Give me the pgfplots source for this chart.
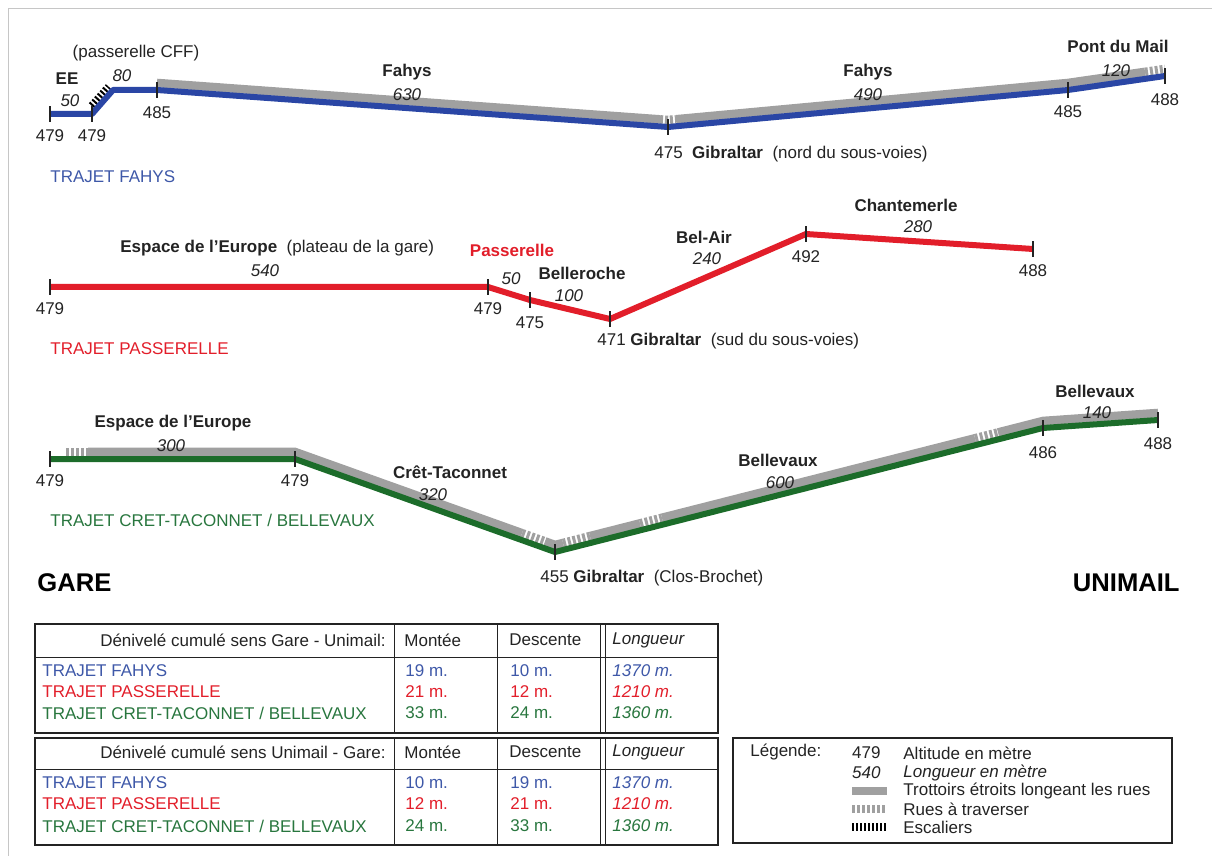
\documentclass[border=0pt]{standalone}
\usepackage{pgfplots}
\pgfplotsset{compat=1.18}
\usepackage{fontspec}
\setmainfont{Liberation Sans}

\definecolor{fahys}{RGB}{42,70,165}
\definecolor{fahystxt}{RGB}{62,88,168}
\definecolor{pass}{RGB}{226,30,42}
\definecolor{cret}{RGB}{28,108,42}
\definecolor{crettxt}{RGB}{40,118,62}
\definecolor{trott}{RGB}{160,160,160}
\definecolor{ink}{RGB}{35,35,35}

\newcommand{\fs}{\fontsize{8.5}{10}\selectfont}
\newcommand{\fsbig}{\fontsize{12.8}{15}\selectfont}

\tikzset{
  every node/.style={inner sep=0pt, font=\fs, text=ink},
  lab/.style={anchor=center},
  num/.style={anchor=center, font=\fs\itshape},
  name/.style={anchor=center, font=\fs\bfseries},
  left/.style={anchor=west},
}
\pgfplotsset{
  trott/.style={color=trott, line width=4.3pt, no marks},
  rue/.style={color=trott, line width=4.3pt, no marks, dash pattern=on 1.5pt off 1pt},
  esc/.style={black, line width=4.2pt, no marks, dash pattern=on 1pt off 1pt},
  route/.style={line width=3pt, no marks, line join=round},
  ticks/.style={only marks, mark=|, mark size=3.9pt, mark options={line width=0.65pt, ink}},
}

\begin{document}
\begin{tikzpicture}
\begin{axis}[
  at={(0,0)}, anchor=south west,
  scale only axis, width=606pt, height=428pt,
  xmin=0, xmax=1212, ymin=0, ymax=856, y dir=reverse,
  axis lines=none, clip=false,
]
% frame
\draw[gray!45, line width=0.5pt] (8,856) -- (8,9) -- (1212,9);

% ---------------- TRAJET FAHYS ----------------
\addplot[trott] coordinates {(157,83) (660,119.4)};
\addplot[rue] coordinates {(660,119.4) (668,120) (676,119.3)};
\addplot[trott] coordinates {(676,119.3) (1068,83) (1145,71.9)};
\addplot[rue] coordinates {(1145,71.9) (1165,69)};
\addplot[esc] coordinates {(92,106) (109,87)};
\addplot[route, fahys] coordinates {(50,114) (92,114) (113,90) (157,90) (668,127) (1068,90) (1165,76)};
\addplot[ticks] coordinates {(50,114) (92,114) (157,90) (668,127) (1068,90) (1165,76)};

\node[lab] at (50,136) {479};
\node[lab] at (92,136) {479};
\node[lab] at (157,113) {485};
\node[lab] at (1068,112) {485};
\node[lab] at (1165,100) {488};
\node[num] at (70,101) {50};
\node[num] at (122,76) {80};
\node[num] at (407,95) {630};
\node[num] at (868,95) {490};
\node[num] at (1116,71) {120};
\node[name] at (67,79) {EE};
\node[lab] at (136,53) {(passerelle CFF)};
\node[name] at (407,72) {Fahys};
\node[name] at (868,72) {Fahys};
\node[name] at (1118,46) {Pont du Mail};
\node[left] at (654,154) {475\ \ \textbf{Gibraltar}\ \ (nord du sous-voies)};
\node[left, text=fahystxt] at (50,177) {TRAJET FAHYS};

% ---------------- TRAJET PASSERELLE ----------------
\addplot[route, pass] coordinates {(50,287) (488,287) (530,300) (610,319) (806,234) (1033,249)};
\addplot[ticks] coordinates {(50,287) (488,287) (530,300) (610,319) (806,234) (1033,249)};

\node[lab] at (50,309) {479};
\node[lab] at (488,309) {479};
\node[lab] at (530,323) {475};
\node[lab] at (806,257) {492};
\node[lab] at (1033,271) {488};
\node[num] at (265,271) {540};
\node[num] at (511,279) {50};
\node[num] at (569,296) {100};
\node[num] at (707,259) {240};
\node[num] at (918,227) {280};
\node[left] at (120,248) {\textbf{Espace de l’Europe}\ \ (plateau de la gare)};
\node[name, text=pass] at (512,250) {Passerelle};
\node[name] at (582,273) {Belleroche};
\node[name] at (704,237) {Bel-Air};
\node[name] at (906,205) {Chantemerle};
\node[left] at (597,341) {471\ \textbf{Gibraltar}\ \ (sud du sous-voies)};
\node[left, text=pass] at (50,349) {TRAJET PASSERELLE};

% ---------------- TRAJET CRET-TACONNET / BELLEVAUX ----------------
\addplot[rue] coordinates {(66,452) (88,452)};
\addplot[trott] coordinates {(88,452) (295,452) (522,533.2)};
\addplot[rue] coordinates {(522,533.2) (545,541.4)};
\addplot[trott] coordinates {(545,541.4) (555,545) (563,543)};
\addplot[rue] coordinates {(563,543) (590,536.1)};
\addplot[trott] coordinates {(590,536.1) (640,523.4)};
\addplot[rue] coordinates {(640,523.4) (662,517.8)};
\addplot[trott] coordinates {(662,517.8) (975,438.3)};
\addplot[rue] coordinates {(975,438.3) (998,432.5)};
\addplot[trott] coordinates {(998,432.5) (1043,421) (1158,413)};
\addplot[route, cret] coordinates {(50,459) (295,459) (555,552) (1043,428) (1158,420)};
\addplot[ticks] coordinates {(50,459) (295,459) (555,552) (1043,428) (1158,420)};

\node[lab] at (50,481) {479};
\node[lab] at (295,481) {479};
\node[lab] at (1043,453) {486};
\node[lab] at (1158,444) {488};
\node[num] at (171,446) {300};
\node[num] at (433,495) {320};
\node[num] at (780,483) {600};
\node[num] at (1097,413) {140};
\node[name] at (173,423) {Espace de l’Europe};
\node[name] at (450,472) {Crêt-Taconnet};
\node[name] at (778,460) {Bellevaux};
\node[name] at (1095,391) {Bellevaux};
\node[left] at (540,578) {455\ \textbf{Gibraltar}\ \ (Clos-Brochet)};
\node[left, text=crettxt] at (50,520) {TRAJET CRET-TACONNET / BELLEVAUX};

\node[anchor=west, font=\fsbig\bfseries, text=black] at (37,583) {GARE};
\node[anchor=east, font=\fsbig\bfseries, text=black] at (1180,583) {UNIMAIL};

% ---------------- TABLE 1 ----------------
\draw[ink, line width=0.5pt] (35,657) -- (718,657);
\draw[ink, line width=0.5pt] (394,624) -- (394,733);
\draw[ink, line width=0.5pt] (497,624) -- (497,733);
\draw[ink, line width=0.5pt] (600,624) -- (600,733);
\draw[ink, line width=0.5pt] (605,624) -- (605,733);
\draw[ink, line width=0.8pt] (35,624) rectangle (718,733);
\node[anchor=east] at (386,640) {Dénivelé cumulé sens Gare - Unimail:};
\node[left] at (404,640) {Montée};
\node[left] at (509,640) {Descente};
\node[left, font=\fs\itshape] at (612,640) {Longueur};
\node[left, text=fahystxt] at (42,671) {TRAJET FAHYS};
\node[left, text=pass] at (42,692) {TRAJET PASSERELLE};
\node[left, text=crettxt] at (42,713) {TRAJET CRET-TACONNET / BELLEVAUX};
\node[left, text=fahystxt] at (405,671) {19 m.};
\node[left, text=pass] at (405,692) {21 m.};
\node[left, text=crettxt] at (405,713) {33 m.};
\node[left, text=fahystxt] at (510,671) {10 m.};
\node[left, text=pass] at (510,692) {12 m.};
\node[left, text=crettxt] at (510,713) {24 m.};
\node[left, text=fahystxt, font=\fs\itshape] at (612,671) {1370 m.};
\node[left, text=pass, font=\fs\itshape] at (612,692) {1210 m.};
\node[left, text=crettxt, font=\fs\itshape] at (612,713) {1360 m.};

% ---------------- TABLE 2 ----------------
\draw[ink, line width=0.5pt] (35,769) -- (718,769);
\draw[ink, line width=0.5pt] (394,738) -- (394,845);
\draw[ink, line width=0.5pt] (497,738) -- (497,845);
\draw[ink, line width=0.5pt] (600,738) -- (600,845);
\draw[ink, line width=0.5pt] (605,738) -- (605,845);
\draw[ink, line width=0.8pt] (35,738) rectangle (718,845);
\node[anchor=east] at (386,752) {Dénivelé cumulé sens Unimail - Gare:};
\node[left] at (404,752) {Montée};
\node[left] at (509,752) {Descente};
\node[left, font=\fs\itshape] at (612,752) {Longueur};
\node[left, text=fahystxt] at (42,783) {TRAJET FAHYS};
\node[left, text=pass] at (42,804) {TRAJET PASSERELLE};
\node[left, text=crettxt] at (42,826) {TRAJET CRET-TACONNET / BELLEVAUX};
\node[left, text=fahystxt] at (405,783) {10 m.};
\node[left, text=pass] at (405,804) {12 m.};
\node[left, text=crettxt] at (405,826) {24 m.};
\node[left, text=fahystxt] at (510,783) {19 m.};
\node[left, text=pass] at (510,804) {21 m.};
\node[left, text=crettxt] at (510,826) {33 m.};
\node[left, text=fahystxt, font=\fs\itshape] at (612,783) {1370 m.};
\node[left, text=pass, font=\fs\itshape] at (612,804) {1210 m.};
\node[left, text=crettxt, font=\fs\itshape] at (612,826) {1360 m.};

% ---------------- LEGEND ----------------
\draw[ink, line width=0.8pt] (733,738) rectangle (1172,843);
\node[left] at (750,752) {Légende:};
\node[anchor=east] at (881,753) {479};
\node[anchor=east, font=\fs\itshape] at (881,773) {540};
\addplot[trott] coordinates {(852,791) (887,791)};
\addplot[rue] coordinates {(852,809) (887,809)};
\addplot[esc] coordinates {(852,827) (887,827)};
\node[left] at (903,753) {Altitude en mètre};
\node[left, font=\fs\itshape] at (903,773) {Longueur en mètre};
\node[left] at (903,791) {Trottoirs étroits longeant les rues};
\node[left] at (903,809) {Rues à traverser};
\node[left] at (903,827) {Escaliers};
\end{axis}
\pgfresetboundingbox
\path[use as bounding box] (0,0) rectangle (606pt,428pt);
\end{tikzpicture}
\end{document}
